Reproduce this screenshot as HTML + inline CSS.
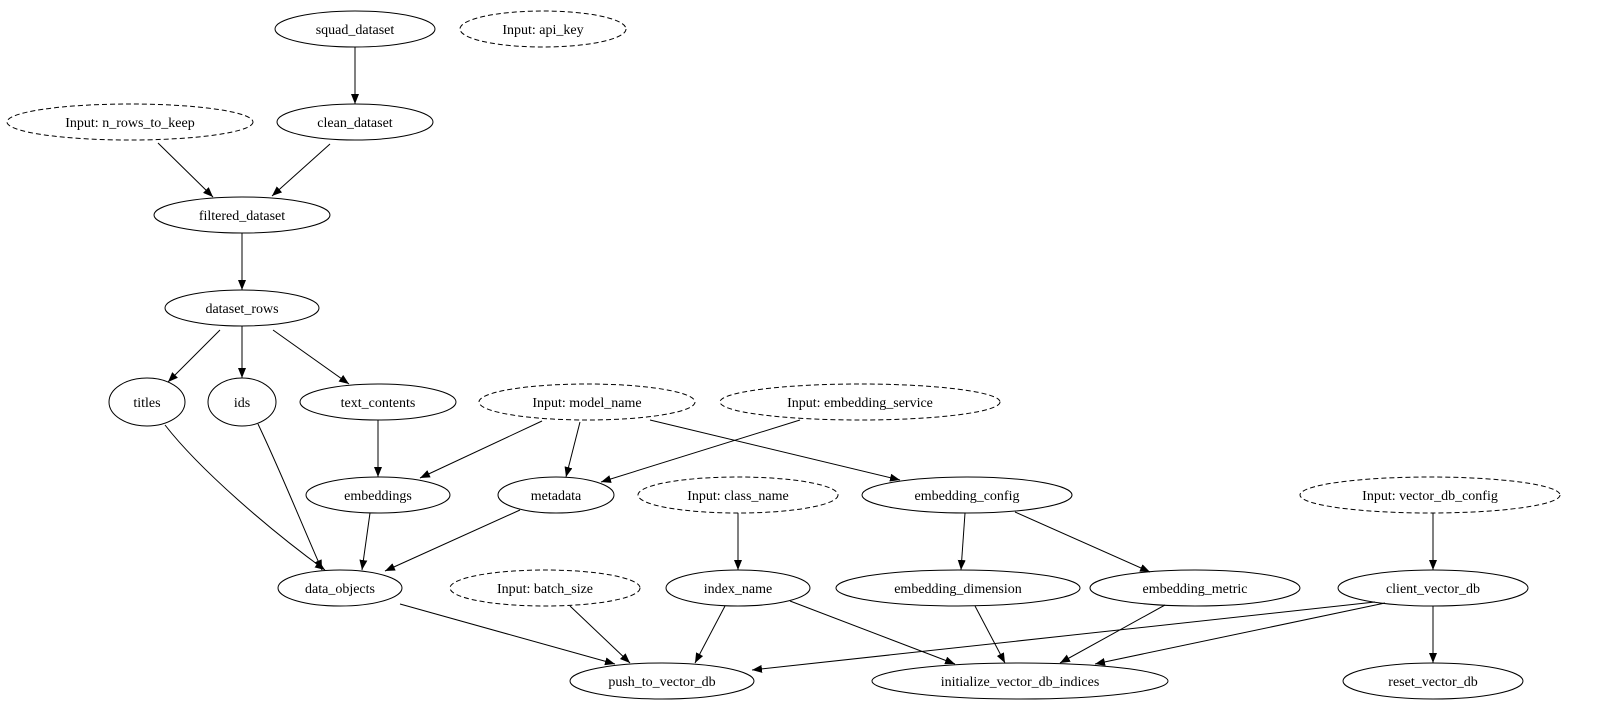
<!DOCTYPE html>
<html><head><meta charset="utf-8"><style>
html,body{margin:0;padding:0;background:#fff;}
svg{display:block;}
text{font-family:"Liberation Serif",serif;font-size:14px;fill:#000;}
</style></head><body>
<svg width="1600" height="723" viewBox="0 0 1600 723" xmlns="http://www.w3.org/2000/svg">
<defs>
<marker id="a" markerWidth="10" markerHeight="8" refX="10" refY="4" orient="auto" markerUnits="userSpaceOnUse">
<path d="M0,0 L10,4 L0,8 Z" fill="#000"/>
</marker>
</defs>
<g fill="none" stroke="#000" stroke-width="1">
<ellipse cx="355" cy="29" rx="80" ry="18"/>
<ellipse cx="543" cy="29" rx="83" ry="18" stroke-dasharray="5,3"/>
<ellipse cx="130" cy="122" rx="123" ry="18" stroke-dasharray="5,3"/>
<ellipse cx="355" cy="122" rx="78" ry="18"/>
<ellipse cx="242" cy="215" rx="88" ry="18"/>
<ellipse cx="242" cy="308" rx="77" ry="18"/>
<ellipse cx="147" cy="402" rx="38" ry="24"/>
<ellipse cx="242" cy="402" rx="34" ry="24"/>
<ellipse cx="378" cy="402" rx="78" ry="18"/>
<ellipse cx="587" cy="402" rx="108" ry="18" stroke-dasharray="5,3"/>
<ellipse cx="860" cy="402" rx="140" ry="18" stroke-dasharray="5,3"/>
<ellipse cx="378" cy="495" rx="72" ry="18"/>
<ellipse cx="556" cy="495" rx="58" ry="18"/>
<ellipse cx="738" cy="495" rx="100" ry="18" stroke-dasharray="5,3"/>
<ellipse cx="967" cy="495" rx="105" ry="18"/>
<ellipse cx="1430" cy="495" rx="130" ry="18" stroke-dasharray="5,3"/>
<ellipse cx="340" cy="588" rx="62" ry="18"/>
<ellipse cx="545" cy="588" rx="95" ry="18" stroke-dasharray="5,3"/>
<ellipse cx="738" cy="588" rx="72" ry="18"/>
<ellipse cx="958" cy="588" rx="122" ry="18"/>
<ellipse cx="1195" cy="588" rx="105" ry="18"/>
<ellipse cx="1433" cy="588" rx="95" ry="18"/>
<ellipse cx="662" cy="681" rx="92" ry="18"/>
<ellipse cx="1020" cy="681" rx="148" ry="18"/>
<ellipse cx="1433" cy="681" rx="90" ry="18"/>
</g>
<g fill="none" stroke="#000" stroke-width="1" marker-end="url(#a)">
<path d="M355,47 L355,104"/>
<path d="M158,143 L213,197"/>
<path d="M330,144 L272,196"/>
<path d="M242,233 L242,290"/>
<path d="M220,330 L168,382"/>
<path d="M242,326 L242,378"/>
<path d="M273,330 L349,384"/>
<path d="M378,420 L378,477"/>
<path d="M542,421 L420,478"/>
<path d="M580,422 L566,477"/>
<path d="M650,420 L900,480"/>
<path d="M800,420 L601,482"/>
<path d="M165,425 C200,470 270,530 325,570"/>
<path d="M258,424 C280,470 300,520 322,570"/>
<path d="M370,513 L362,570"/>
<path d="M520,510 L385,571"/>
<path d="M738,513 L738,570"/>
<path d="M965,513 L961,570"/>
<path d="M1015,512 L1150,572"/>
<path d="M1433,513 L1433,570"/>
<path d="M400,604 L615,664"/>
<path d="M570,606 L630,663"/>
<path d="M725,606 L695,663"/>
<path d="M790,601 L955,664"/>
<path d="M975,606 L1005,663"/>
<path d="M1165,605 L1060,663"/>
<path d="M1375,602 L752,670"/>
<path d="M1385,603 L1095,664"/>
<path d="M1433,606 L1433,663"/>
</g>
<g text-anchor="middle">
<text x="355" y="34">squad_dataset</text>
<text x="543" y="34">Input: api_key</text>
<text x="130" y="127">Input: n_rows_to_keep</text>
<text x="355" y="127">clean_dataset</text>
<text x="242" y="220">filtered_dataset</text>
<text x="242" y="313">dataset_rows</text>
<text x="147" y="407">titles</text>
<text x="242" y="407">ids</text>
<text x="378" y="407">text_contents</text>
<text x="587" y="407">Input: model_name</text>
<text x="860" y="407">Input: embedding_service</text>
<text x="378" y="500">embeddings</text>
<text x="556" y="500">metadata</text>
<text x="738" y="500">Input: class_name</text>
<text x="967" y="500">embedding_config</text>
<text x="1430" y="500">Input: vector_db_config</text>
<text x="340" y="593">data_objects</text>
<text x="545" y="593">Input: batch_size</text>
<text x="738" y="593">index_name</text>
<text x="958" y="593">embedding_dimension</text>
<text x="1195" y="593">embedding_metric</text>
<text x="1433" y="593">client_vector_db</text>
<text x="662" y="686">push_to_vector_db</text>
<text x="1020" y="686">initialize_vector_db_indices</text>
<text x="1433" y="686">reset_vector_db</text>
</g>
</svg>
</body></html>
